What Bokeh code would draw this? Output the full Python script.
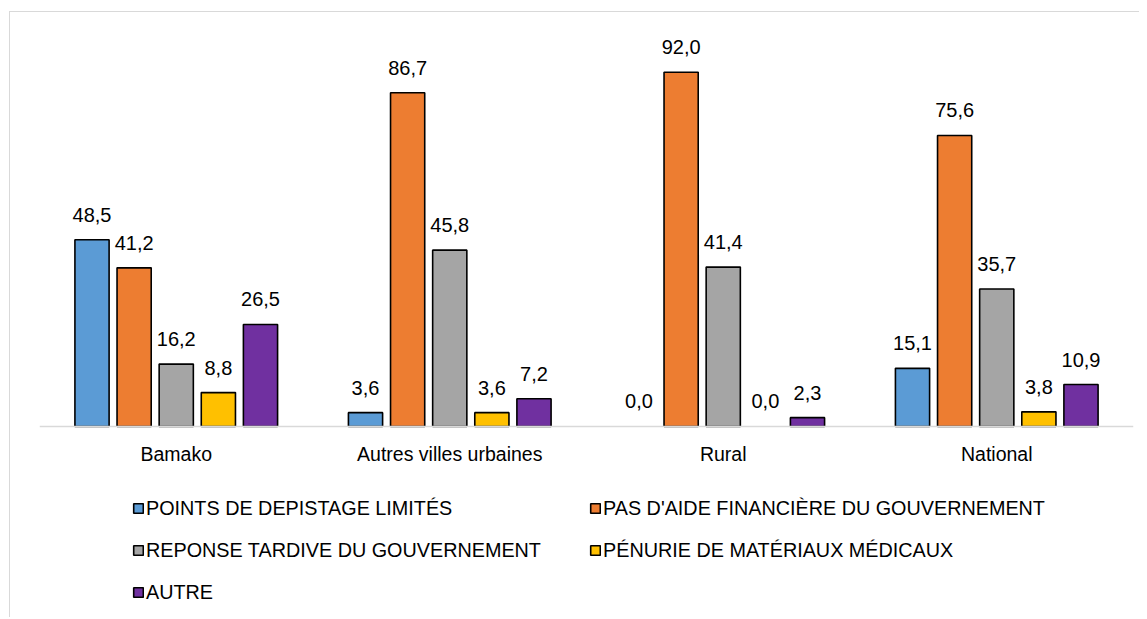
from bokeh.plotting import figure
from bokeh.models import ColumnDataSource, FactorRange, Range1d, LabelSet, Legend, LegendItem
from bokeh.transform import dodge
from bokeh.core.properties import value
from bokeh.embed import file_html
from bokeh.resources import INLINE

categories = ["Bamako", "Autres villes urbaines", "Rural", "National"]
points_depistage = [48.5, 3.6, 0.0, 15.1]
pas_aide = [41.2, 86.7, 92.0, 75.6]
reponse_tardive = [16.2, 45.8, 41.4, 35.7]
penurie = [8.8, 3.6, 0.0, 3.8]
autre = [26.5, 7.2, 2.3, 10.9]
series_labels = [
    "POINTS DE DEPISTAGE LIMITÉS",
    "PAS D'AIDE FINANCIÈRE DU GOUVERNEMENT",
    "REPONSE TARDIVE DU GOUVERNEMENT",
    "PÉNURIE DE MATÉRIAUX MÉDICAUX",
    "AUTRE",
]
series_values = [points_depistage, pas_aide, reponse_tardive, penurie, autre]
colors = ["#5B9BD5", "#ED7D31", "#A5A5A5", "#FFC000", "#7030A0"]

FONT = "Liberation Sans"

p = figure(
    x_range=FactorRange(*categories),
    y_range=Range1d(-49.87, 105.19),
    width=1130, height=606,
    output_backend="svg", toolbar_location=None,
    min_border_left=29, min_border_right=7, min_border_top=9, min_border_bottom=0,
)
p.margin = (11, 0, 0, 9)
p.styles = {"border-left": "1px solid #d9d9d9", "border-top": "1px solid #d9d9d9"}
p.outline_line_color = None
p.xgrid.grid_line_color = None
p.ygrid.grid_line_color = None
p.yaxis.visible = False

ax = p.xaxis[0]
ax.fixed_location = 0
ax.axis_line_color = "#d9d9d9"
ax.axis_line_width = 1.5
ax.major_tick_line_color = None
ax.minor_tick_line_color = None
ax.major_tick_out = 0
ax.major_tick_in = 0
ax.major_label_standoff = 17
ax.major_label_text_font = FONT
ax.major_label_text_font_size = "19.5px"
ax.major_label_text_color = "#000000"

pitch = 0.154
bar_w = 0.125
items = []
for i, (lab, vals, col) in enumerate(zip(series_labels, series_values, colors)):
    src = ColumnDataSource(dict(
        cat=categories,
        val=vals,
        txt=[f"{v:.1f}".replace(".", ",") for v in vals],
        lc=["black" if v > 0 else None for v in vals],
    ))
    off = (i - 2) * pitch
    r = p.vbar(x=dodge("cat", off, range=p.x_range), top="val", bottom=0, width=bar_w,
               source=src, fill_color=col, line_color="lc", line_width=1.6)
    items.append(LegendItem(label=lab, renderers=[r]))
    p.add_layout(LabelSet(x=dodge("cat", off, range=p.x_range), y="val", text="txt", source=src,
                          y_offset=18, text_align="center", text_baseline="alphabetic",
                          text_font=value(FONT), text_font_size=value("20px"),
                          text_color="#000000"))

common = dict(orientation="vertical", border_line_color=None, background_fill_alpha=0,
              label_text_font=FONT, label_text_font_size="19.8px", label_text_color="#000000",
              glyph_width=12, glyph_height=12, label_standoff=2, label_height=24,
              spacing=18, padding=0, margin=0)
legend1 = Legend(items=[items[0], items[2], items[4]], location=(93, 14), **common)
legend2 = Legend(items=[items[1], items[3]], location=(550, 56), **common)
p.add_layout(legend1, "center")
p.add_layout(legend2, "center")

open("out.html", "w").write(file_html(p, INLINE))
